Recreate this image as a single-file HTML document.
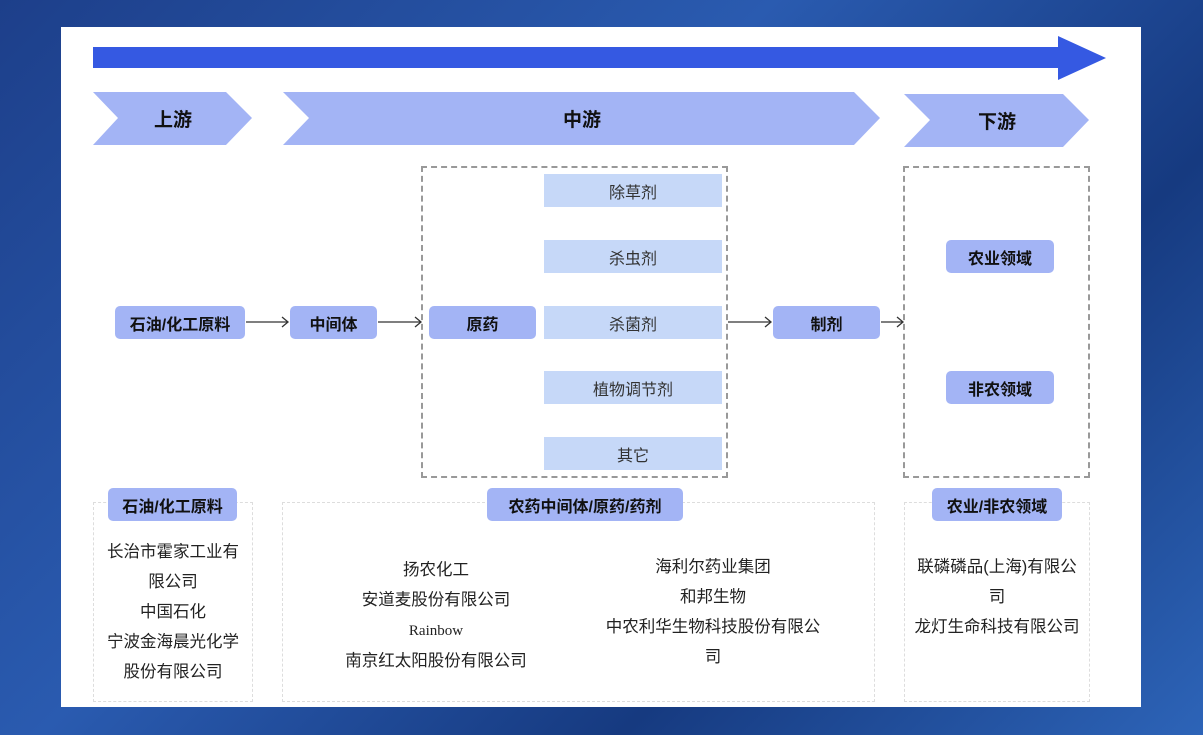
<!DOCTYPE html>
<html><head><meta charset="utf-8"><style>
body{margin:0;width:1203px;height:735px;overflow:hidden;background:linear-gradient(135deg,#1d3f8a,#2a5bb0 40%,#163a80 70%,#2d64b8);font-family:"Liberation Sans","Noto Sans CJK SC",sans-serif;position:relative}
.panel{position:absolute;left:61px;top:27px;width:1080px;height:680px;background:#fff}
.a{position:absolute;box-sizing:border-box}
.n{background:#a3b4f5;border-radius:5px;font-weight:bold;font-size:16px;color:#111;display:flex;align-items:center;justify-content:center}
.s{background:#c6d8f8;font-size:16px;color:#333;display:flex;align-items:center;justify-content:center}
.d{border:2px dashed #999}
.dl{border:1.5px dashed #ddd}
.t{font-size:16.5px;color:#222;line-height:30px;text-align:center}
</style></head><body>
<div class="panel"></div>
<svg class="a" style="left:0;top:0" width="1203" height="735">
<polygon points="93,47 1058,47 1058,36 1106,58 1058,80 1058,68 93,68" fill="#3559e2"/>
<polygon points="93,92 226,92 252,118 226,145 93,145 118,118" fill="#a3b4f5"/>
<polygon points="283,92 854,92 880,118 854,145 283,145 309,118" fill="#a3b4f5"/>
<polygon points="904,94 1063,94 1089,120 1063,147 904,147 930,120" fill="#a3b4f5"/>
<text x="173" y="126" font-size="19" font-weight="bold" text-anchor="middle" fill="#111">上游</text>
<text x="582" y="126" font-size="19" font-weight="bold" text-anchor="middle" fill="#111">中游</text>
<text x="997" y="128" font-size="19" font-weight="bold" text-anchor="middle" fill="#111">下游</text>
<g stroke="#333" stroke-width="1.3" fill="none">
<line x1="246" y1="322" x2="288" y2="322"/><polyline points="282,317 288,322 282,327"/>
<line x1="378" y1="322" x2="421" y2="322"/><polyline points="415,317 421,322 415,327"/>
<line x1="728" y1="322" x2="771" y2="322"/><polyline points="765,317 771,322 765,327"/>
<line x1="881" y1="322" x2="903" y2="322"/><polyline points="897,317 903,322 897,327"/>
</g>
</svg>
<div class="a d" style="left:421px;top:166px;width:307px;height:312px"></div>
<div class="a d" style="left:903px;top:166px;width:187px;height:312px"></div>
<div class="a s" style="left:544px;top:174px;width:178px;height:33px">除草剂</div>
<div class="a s" style="left:544px;top:240px;width:178px;height:33px">杀虫剂</div>
<div class="a s" style="left:544px;top:306px;width:178px;height:33px">杀菌剂</div>
<div class="a s" style="left:544px;top:371px;width:178px;height:33px">植物调节剂</div>
<div class="a s" style="left:544px;top:437px;width:178px;height:33px">其它</div>
<div class="a n" style="left:115px;top:306px;width:130px;height:33px">石油/化工原料</div>
<div class="a n" style="left:290px;top:306px;width:87px;height:33px">中间体</div>
<div class="a n" style="left:429px;top:306px;width:107px;height:33px">原药</div>
<div class="a n" style="left:773px;top:306px;width:107px;height:33px">制剂</div>
<div class="a n" style="left:946px;top:240px;width:108px;height:33px">农业领域</div>
<div class="a n" style="left:946px;top:371px;width:108px;height:33px">非农领域</div>
<div class="a dl" style="left:93px;top:502px;width:160px;height:200px"></div>
<div class="a dl" style="left:282px;top:502px;width:593px;height:200px"></div>
<div class="a dl" style="left:904px;top:502px;width:186px;height:200px"></div>
<div class="a n" style="left:108px;top:488px;width:129px;height:33px">石油/化工原料</div>
<div class="a n" style="left:487px;top:488px;width:196px;height:33px">农药中间体/原药/药剂</div>
<div class="a n" style="left:932px;top:488px;width:130px;height:33px">农业/非农领域</div>
<div class="a t" style="left:98px;top:537px;width:150px">长治市霍家工业有<br>限公司<br>中国石化<br>宁波金海晨光化学<br>股份有限公司</div>
<div class="a t" style="left:316px;top:555px;width:240px">扬农化工<br>安道麦股份有限公司<br><span style="font-family:'Liberation Serif',serif;font-size:15px">Rainbow</span><br>南京红太阳股份有限公司</div>
<div class="a t" style="left:597px;top:552px;width:232px">海利尔药业集团<br>和邦生物<br>中农利华生物科技股份有限公<br>司</div>
<div class="a t" style="left:908px;top:552px;width:178px">联磷磷品(上海)有限公<br>司<br>龙灯生命科技有限公司</div>
</body></html>
